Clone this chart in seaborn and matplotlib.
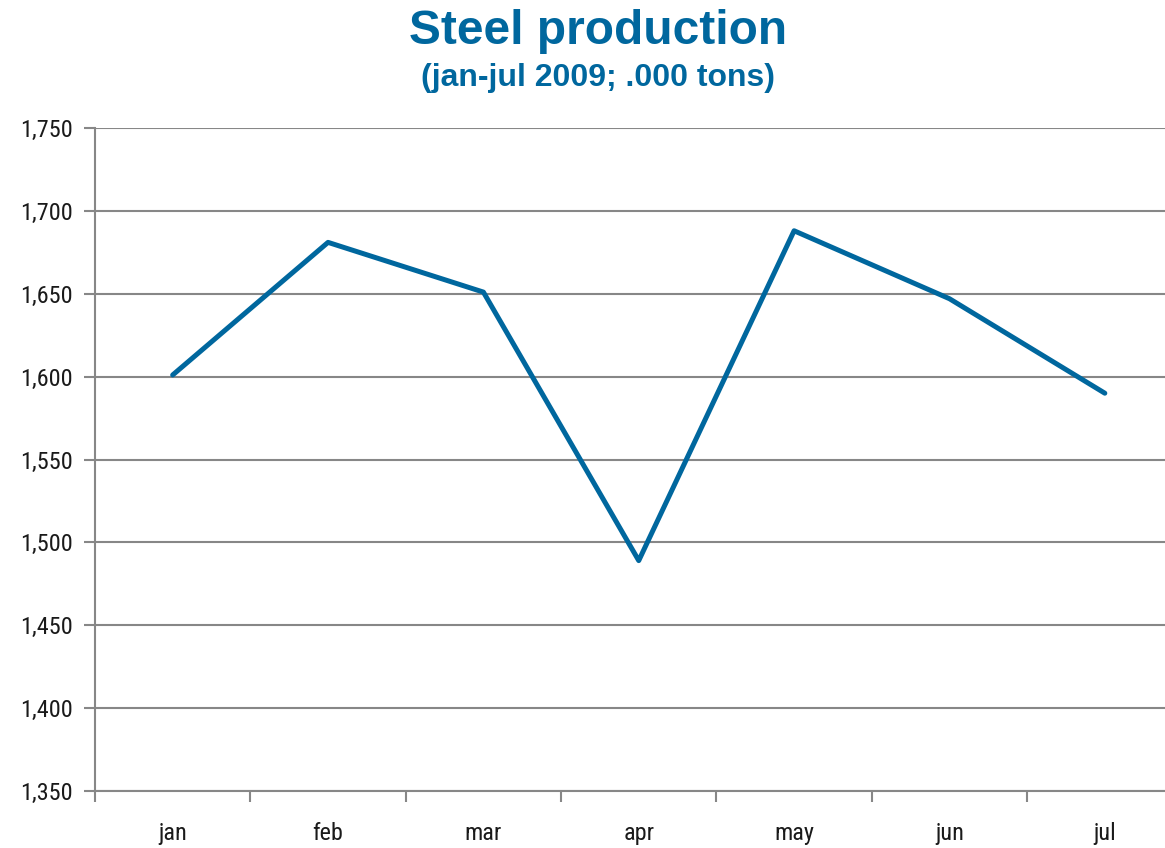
import matplotlib
matplotlib.use("Agg")
import matplotlib.pyplot as plt
from matplotlib import font_manager
from matplotlib.ticker import FuncFormatter
import seaborn as sns
import pandas as pd

months = ["jan", "feb", "mar", "apr", "may", "jun", "jul"]
production = [1601, 1681, 1651, 1489, 1688, 1647, 1590]
y_ticks = [1350, 1400, 1450, 1500, 1550, 1600, 1650, 1700, 1750]

blue = "#00679e"
grey = "#878787"

sns.set_theme(style="white")
names = {f.name for f in font_manager.fontManager.ttflist}
narrow = "Liberation Sans"
for cand in ["Liberation Sans Narrow", "Roboto Condensed", "Open Sans Condensed"]:
    if cand in names:
        narrow = cand
        break
plt.rcParams["font.family"] = ["Liberation Sans", "DejaVu Sans"]

df = pd.DataFrame({"month": months, "production": production})

fig = plt.figure(figsize=(11.65, 8.48), dpi=100)
ax = fig.add_axes([95 / 1165, 1 - 791 / 848, (1182.5 - 95) / 1165, (791 - 128) / 848])

sns.lineplot(data=df, x="month", y="production", ax=ax, color=blue, linewidth=3.6,
             sort=False)

ax.set_xlim(-0.5, 6.5)
ax.set_ylim(1350, 1750)
ax.set_yticks(y_ticks)
ax.yaxis.set_major_formatter(FuncFormatter(lambda v, p: f"{int(v):,}"))
ax.set_xticks([i + 0.5 for i in range(-1, 7)], minor=False)
ax.set_xticks(range(7), minor=True)
ax.set_xticklabels([])
ax.set_xticklabels(months, minor=True)
ax.tick_params(axis="x", which="major", bottom=True, length=8, width=1.5, color=grey,
               direction="out")
ax.tick_params(axis="x", which="minor", bottom=True, length=0, pad=22, labelsize=17.5)
ax.tick_params(axis="y", left=True, length=8, width=1.5, color=grey, direction="out",
               pad=8, labelsize=17.5)
for lab in ax.get_xticklabels(minor=True) + ax.get_yticklabels():
    lab.set_fontfamily([narrow, "DejaVu Sans"])
    lab.set_color("#1a1a1a")

ax.grid(axis="y", color=grey, linewidth=1.5)
ax.set_axisbelow(True)
for s in ["top", "right"]:
    ax.spines[s].set_visible(False)
for s in ["left", "bottom"]:
    ax.spines[s].set_color(grey)
    ax.spines[s].set_linewidth(1.5)
ax.set_xlabel("")
ax.set_ylabel("")

fig.text(0.513, 1 - 32 / 848, "Steel production", ha="center", va="center",
         fontsize=34.5, fontweight="bold", color=blue)
fig.text(0.513, 1 - 78 / 848, "(jan-jul 2009; .000 tons)", ha="center", va="center",
         fontsize=23, fontweight="bold", color=blue)

fig.savefig("out.png", dpi=100)
